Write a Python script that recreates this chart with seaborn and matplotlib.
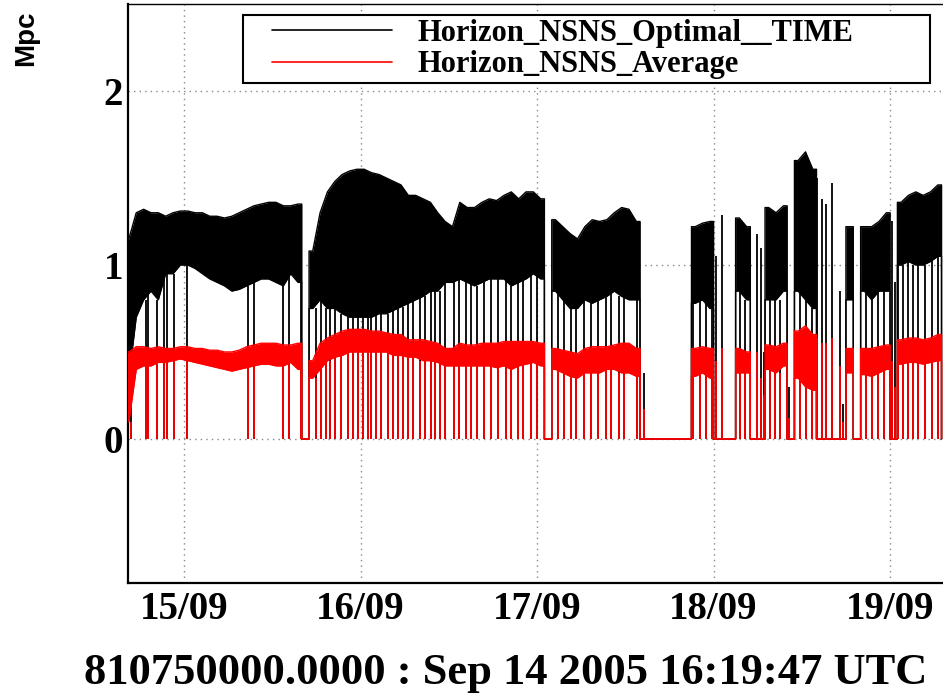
import numpy as np
import pandas as pd
import matplotlib
matplotlib.use("Agg")
import matplotlib.pyplot as plt
from matplotlib.lines import Line2D
from matplotlib.legend_handler import HandlerLine2D
from matplotlib.ticker import MultipleLocator
import seaborn as sns

# time axis: hours after 15/09/2005 00:00 UTC, one bin per hour (bin centres)
hours = np.arange(-7.5, 103.0, 1.0)

# Horizon_NSNS_Optimal__TIME: top / bottom of the noisy band in each hour (0 = not locked)
opt_hi = [1.15, 1.30, 1.32, 1.30, 1.30, 1.28, 1.30, 1.31, 1.31, 1.30,
          1.30, 1.28, 1.28, 1.27, 1.28, 1.30, 1.32, 1.34, 1.35, 1.36,
          1.36, 1.34, 1.34, 1.35, 0.00, 1.08, 1.30, 1.42, 1.48, 1.52,
          1.54, 1.55, 1.55, 1.53, 1.52, 1.50, 1.48, 1.46, 1.40, 1.40,
          1.38, 1.36, 1.30, 1.25, 1.22, 1.36, 1.33, 1.33, 1.36, 1.38,
          1.37, 1.40, 1.42, 1.38, 1.42, 1.42, 1.38, 0.00, 1.26, 1.22,
          1.18, 1.15, 1.22, 1.26, 1.25, 1.26, 1.30, 1.33, 1.32, 1.25,
          0, 0, 0, 0, 0, 0, 0, 1.22, 1.24, 1.25,
          0, 0, 0, 1.27, 1.22, 0, 0, 1.33, 1.30, 1.34,
          0, 1.60, 1.65, 1.55, 0, 0, 0, 0, 1.22, 0,
          1.22, 1.22, 1.25, 1.30, 0, 1.36, 1.40, 1.42, 1.40, 1.42,
          1.46]
opt_lo = [0.35, 0.70, 0.80, 0.85, 0.80, 0.95, 0.95, 1.00, 1.00, 0.98,
          0.95, 0.92, 0.90, 0.88, 0.85, 0.86, 0.88, 0.90, 0.92, 0.92,
          0.90, 0.88, 0.95, 0.90, 0.00, 0.75, 0.80, 0.75, 0.75, 0.72,
          0.70, 0.70, 0.70, 0.70, 0.72, 0.72, 0.74, 0.76, 0.78, 0.80,
          0.82, 0.85, 0.85, 0.90, 0.90, 0.92, 0.90, 0.88, 0.90, 0.92,
          0.92, 0.92, 0.88, 0.90, 0.92, 0.95, 0.92, 0.00, 0.85, 0.80,
          0.75, 0.75, 0.80, 0.78, 0.80, 0.82, 0.85, 0.82, 0.80, 0.80,
          0, 0, 0, 0, 0, 0, 0, 0.78, 0.80, 0.75,
          0, 0, 0, 0.85, 0.80, 0, 0, 0.80, 0.80, 0.85,
          0, 0.85, 0.80, 0.75, 0, 0, 0, 0, 0.80, 0,
          0.85, 0.80, 0.85, 0.85, 0, 1.00, 1.02, 1.00, 1.00, 1.02,
          1.05]

# Horizon_NSNS_Average: top / bottom of the band in each hour
avg_hi = [0.50, 0.53, 0.53, 0.52, 0.53, 0.52, 0.52, 0.53, 0.53, 0.52,
          0.52, 0.51, 0.51, 0.50, 0.50, 0.51, 0.53, 0.54, 0.55, 0.55,
          0.55, 0.54, 0.54, 0.55, 0.00, 0.45, 0.55, 0.58, 0.60, 0.62,
          0.63, 0.63, 0.63, 0.62, 0.62, 0.61, 0.60, 0.60, 0.57, 0.57,
          0.57, 0.56, 0.55, 0.52, 0.52, 0.55, 0.54, 0.54, 0.55, 0.55,
          0.55, 0.56, 0.56, 0.56, 0.56, 0.56, 0.55, 0.00, 0.52, 0.51,
          0.50, 0.49, 0.52, 0.53, 0.53, 0.53, 0.54, 0.55, 0.55, 0.52,
          0, 0, 0, 0, 0, 0, 0, 0.52, 0.53, 0.52,
          0, 0, 0, 0.52, 0.50, 0, 0, 0.54, 0.53, 0.55,
          0, 0.62, 0.65, 0.60, 0, 0, 0, 0, 0.52, 0,
          0.52, 0.52, 0.53, 0.54, 0, 0.57, 0.58, 0.58, 0.57, 0.58,
          0.60]
avg_lo = [0.10, 0.40, 0.42, 0.42, 0.44, 0.44, 0.45, 0.46, 0.45, 0.44,
          0.43, 0.42, 0.41, 0.40, 0.39, 0.40, 0.41, 0.42, 0.43, 0.43,
          0.42, 0.42, 0.44, 0.40, 0.00, 0.35, 0.40, 0.45, 0.47, 0.48,
          0.50, 0.50, 0.50, 0.50, 0.50, 0.50, 0.48, 0.48, 0.47, 0.47,
          0.45, 0.45, 0.44, 0.42, 0.42, 0.42, 0.42, 0.42, 0.42, 0.42,
          0.41, 0.42, 0.40, 0.42, 0.43, 0.44, 0.42, 0.00, 0.40, 0.38,
          0.36, 0.35, 0.38, 0.38, 0.38, 0.40, 0.40, 0.38, 0.38, 0.36,
          0, 0, 0, 0, 0, 0, 0, 0.36, 0.38, 0.35,
          0, 0, 0, 0.38, 0.38, 0, 0, 0.40, 0.38, 0.42,
          0, 0.35, 0.30, 0.28, 0, 0, 0, 0, 0.38, 0,
          0.37, 0.36, 0.38, 0.40, 0, 0.43, 0.44, 0.44, 0.43, 0.44,
          0.45]

# short lock losses inside locked stretches (hours)
drop_hours = [-7.2, -5.2, -4.9, -3.7, -2.7, -2.3, -1.4, 0.4, 8.7, 9.5, 13.5, 14.3,
              15.9, 18.0, 18.6, 19.3, 19.9, 20.5, 21.4, 22.3, 23.0, 23.7, 24.3,
              25.0, 25.4, 26.1, 26.8, 27.7, 28.4, 29.1, 29.8, 30.5, 31.1, 32.1,
              32.8, 33.6, 34.1, 34.8, 35.5, 36.7, 37.4, 38.4, 39.0, 39.8, 40.8,
              41.8, 42.7, 43.8, 44.5, 45.4, 46.1, 47.2, 48.0, 50.9, 51.7, 52.6,
              53.3, 54.4, 55.3, 56.3, 57.4, 58.1, 59.2, 59.8, 61.6, 69.2, 70.2,
              71.0, 71.8, 75.6, 76.3, 79.7, 80.4, 81.0, 83.8, 84.6, 85.4, 92.7,
              93.6, 94.4, 95.2, 97.1, 97.8, 98.5, 99.1, 99.8, 100.8, 101.7, 102.5]

# short isolated locks while mostly unlocked: time, optimal peak, average peak
spike_hours = [62.5, 72.4, 73.2, 77.9, 78.4, 78.9, 82.3, 86.1, 86.8, 87.3, 88.1, 89.2, 89.6, 96.3, 96.7]
spike_opt = [0.38, 1.05, 1.29, 1.18, 1.10, 0.50, 0.30, 1.50, 1.38, 1.35, 1.47, 0.85, 0.20, 1.25, 0.90]
spike_avg = [0.17, 0.45, 0.52, 0.50, 0.35, 0.25, 0.12, 0.58, 0.55, 0.55, 0.58, 0.42, 0.10, 0.45, 0.30]

day_hours = [0, 24, 48, 72, 96]
day_labels = ["15/09", "16/09", "17/09", "18/09", "19/09"]
y_ticks = [0, 1, 2]
series_names = ["Horizon_NSNS_Optimal__TIME", "Horizon_NSNS_Average"]
start_label = "810750000.0000 : Sep 14 2005 16:19:47 UTC"


def band_trace(t, hi, lo):
    # hour bins -> outline; lock edges become vertical at the bin borders
    xs, his, los = [], [], []
    n = len(t)
    for i in range(n):
        on = hi[i] > 0
        if on and (i == 0 or hi[i - 1] == 0):
            xs += [t[i] - 0.5, t[i] - 0.5]
            his += [0, hi[i]]
            los += [0, lo[i]]
        xs.append(t[i])
        his.append(hi[i])
        los.append(lo[i])
        if on and (i == n - 1 or hi[i + 1] == 0):
            xs += [t[i] + 0.5, t[i] + 0.5]
            his += [hi[i], 0]
            los += [lo[i], 0]
    return pd.DataFrame({"hour": xs, "hi": his, "lo": los})


sns.set_style("white")
plt.rcParams["font.family"] = ["Liberation Serif", "DejaVu Serif"]
plt.rcParams["font.weight"] = "bold"
plt.rcParams["text.color"] = "black"

W, H = 943, 699
fig = plt.figure(figsize=(W / 100, H / 100), dpi=100)
ax = fig.add_axes([128 / W, 1 - 583 / H, 820 / W, 579 / H])

drops = np.array(drop_hours)
nearest = np.abs(hours[:, None] - drops[None, :]).argmin(axis=0)

for hi, lo, col, z in [(opt_hi, opt_lo, "black", 2), (avg_hi, avg_lo, "red", 5)]:
    tr = band_trace(hours, hi, lo)
    ax.fill_between(tr["hour"], tr["lo"], tr["hi"], color=col, lw=0, zorder=z)
    for edge in ["hi", "lo"]:
        sns.lineplot(data=tr, x="hour", y=edge, color=col, lw=1, estimator=None,
                     sort=False, ax=ax, zorder=z)
    ax.vlines(drops, 0, np.array(lo)[nearest], color=col, lw=1.3, zorder=z + 1)

ax.vlines(spike_hours, 0, spike_opt, color="black", lw=1.3, zorder=3)
ax.vlines(spike_hours, 0, spike_avg, color="red", lw=1.3, zorder=6)

ax.set_xlim(-7.62, 103.88)
ax.set_ylim(-0.828, 2.5)
ax.set_xlabel("")
ax.set_ylabel("")
ax.set_xticks(day_hours, day_labels)
ax.xaxis.set_minor_locator(MultipleLocator(6))
ax.set_yticks(y_ticks, [str(v) for v in y_ticks])
ax.yaxis.set_minor_locator(MultipleLocator(0.2))
ax.tick_params(which="both", direction="in", top=False, right=False,
               width=1, colors="black")
ax.tick_params(which="major", length=13.7, labelsize=28)
ax.tick_params(which="minor", length=7)
ax.tick_params(axis="x", pad=6)
ax.tick_params(axis="y", pad=3.6)

ax.grid(True, which="major", color="#888888", lw=1, linestyle=(0, (1, 3)))
ax.set_axisbelow(True)
for side, lw in [("left", 1.6), ("bottom", 1.6), ("top", 1.0), ("right", 1.0)]:
    ax.spines[side].set_color("black")
    ax.spines[side].set_linewidth(lw)

handles = [Line2D([], [], color="black", lw=1.2), Line2D([], [], color="red", lw=1.2)]
leg = ax.legend(handles, series_names, loc="upper left",
                bbox_to_anchor=(243 / W, 1 - 81 / H, 687 / W, 66 / H),
                bbox_transform=fig.transFigure, mode="expand", borderaxespad=0,
                borderpad=0.12, labelspacing=0.09, handlelength=4.74,
                handletextpad=0.85, handler_map={Line2D: HandlerLine2D(xpad=0.82)},
                fontsize=22, frameon=True, fancybox=False, framealpha=1,
                edgecolor="black")
leg.get_frame().set_linewidth(1.5)
leg.set_zorder(10)

fig.text(26 / W, 1 - 10 / H, "Mpc", rotation=90, ha="center", va="top", color="black",
         fontsize=20, fontweight="bold", family=["Liberation Sans", "DejaVu Sans"])
fig.text(84 / W, 15 / H, start_label, ha="left", va="baseline", fontsize=32,
         fontweight="bold", color="black")

fig.savefig("out.png", dpi=100)
